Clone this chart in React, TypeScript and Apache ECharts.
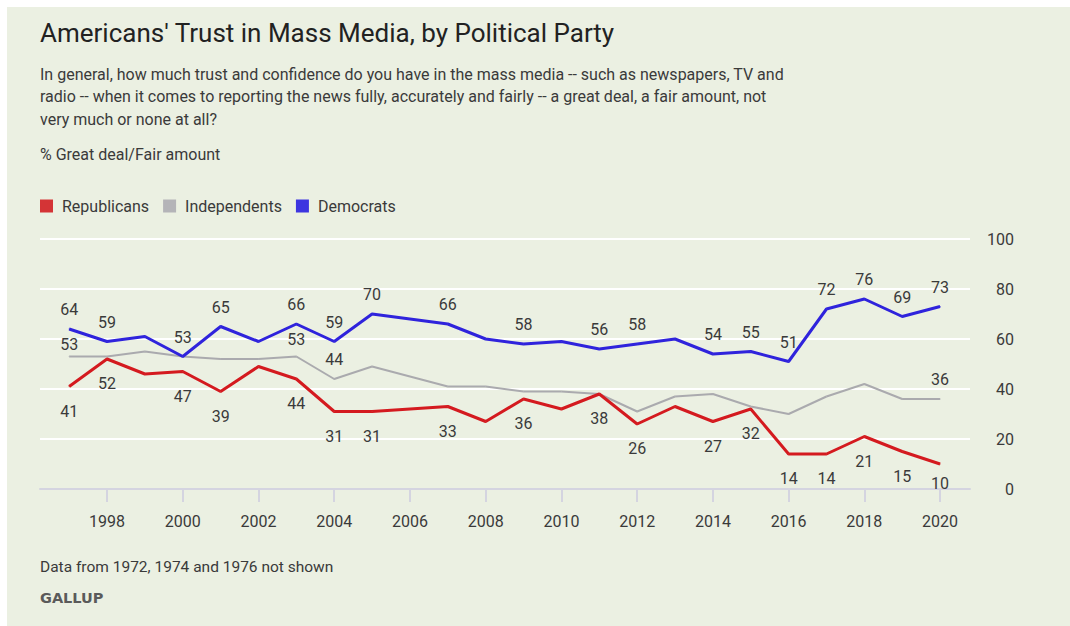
import React, { useEffect, useRef } from "react";
import * as echarts from "echarts";

const years = [1997, 1998, 1999, 2000, 2001, 2002, 2003, 2004, 2005, 2007, 2008, 2009, 2010, 2011, 2012, 2013, 2014, 2015, 2016, 2017, 2018, 2019, 2020];
const republicans = [41, 52, 46, 47, 39, 49, 44, 31, 31, 33, 27, 36, 32, 38, 26, 33, 27, 32, 14, 14, 21, 15, 10];
const independents = [53, 53, 55, 53, 52, 52, 53, 44, 49, 41, 41, 39, 39, 38, 31, 37, 38, 33, 30, 37, 42, 36, 36];
const democrats = [64, 59, 61, 53, 65, 59, 66, 59, 70, 66, 60, 58, 59, 56, 58, 60, 54, 55, 51, 72, 76, 69, 73];

const repLabelYears = [1997, 1998, 2000, 2001, 2003, 2004, 2005, 2007, 2009, 2011, 2012, 2014, 2015, 2016, 2017, 2018, 2019, 2020];
const indLabelYears = [1997, 2003, 2004, 2020];
const demLabelYears = [1997, 1998, 2000, 2001, 2003, 2004, 2005, 2007, 2009, 2011, 2012, 2014, 2015, 2016, 2017, 2018, 2019, 2020];

const xTickYears = [1998, 2000, 2002, 2004, 2006, 2008, 2010, 2012, 2014, 2016, 2018, 2020];

const titleText = "Americans' Trust in Mass Media, by Political Party";
const subtitleLines = [
  "In general, how much trust and confidence do you have in the mass media -- such as newspapers, TV and",
  "radio -- when it comes to reporting the news fully, accurately and fairly -- a great deal, a fair amount, not",
  "very much or none at all?",
];
const unitText = "% Great deal/Fair amount";
const noteText = "Data from 1972, 1974 and 1976 not shown";
const sourceText = "GALLUP";

const FONT = "Roboto, 'Liberation Sans', sans-serif";
const TEXT_COLOR = "#3a3a3a";

function buildData(values: number[], labelYears: number[], position: string, distance: number, overrides: Record<number, number> = {}) {
  return years.map((y, i) => {
    const show = labelYears.indexOf(y) >= 0;
    return {
      value: [y, values[i]],
      label: show
        ? { show: true, position, distance: overrides[y] !== undefined ? overrides[y] : distance }
        : { show: false },
    };
  });
}

export default function App() {
  const ref = useRef<HTMLDivElement>(null);
  useEffect(() => {
    if (!ref.current) return;
    const chart = echarts.init(ref.current, null, { renderer: "svg" });
    const labelStyle = { show: false, color: TEXT_COLOR, fontSize: 16, fontFamily: FONT };
    const mkSeries = (name: string, color: string, legendColor: string, width: number, z: number, data: any[]) => ({
      name,
      type: "line",
      symbol: "circle",
      symbolSize: 1,
      showSymbol: true,
      showAllSymbol: true,
      itemStyle: { color: legendColor },
      lineStyle: { width, color },
      label: labelStyle,
      labelLayout: { hideOverlap: false },
      emphasis: { disabled: true },
      z,
      data,
    });
    chart.setOption({
      animation: false,
      backgroundColor: "#ffffff",
      textStyle: { fontFamily: FONT },
      graphic: [
        { type: "rect", silent: true, z: -10, shape: { x: 7, y: 7, width: 1063, height: 619 }, style: { fill: "#ebf0e2" } },
        { type: "text", x: 40, y: 33, style: { text: titleText, font: `400 26px ${FONT}`, fill: "#222", textVerticalAlign: "middle", verticalAlign: "middle" } },
        ...subtitleLines.map((t, i) => ({
          type: "text", x: 40, y: 74 + i * 22.5,
          style: { text: t, font: `400 16px ${FONT}`, fill: TEXT_COLOR, textVerticalAlign: "middle", verticalAlign: "middle" },
        })),
        { type: "text", x: 40, y: 154, style: { text: unitText, font: `400 16px ${FONT}`, fill: TEXT_COLOR, textVerticalAlign: "middle", verticalAlign: "middle" } },
        { type: "text", x: 40, y: 567, style: { text: noteText, font: `400 15.5px ${FONT}`, fill: TEXT_COLOR, textVerticalAlign: "middle", verticalAlign: "middle" } },
        { type: "text", x: 40, y: 598, style: { text: sourceText, font: `700 14.5px 'DejaVu Sans', sans-serif`, fill: "#5a5a5a", textVerticalAlign: "middle", verticalAlign: "middle" } },
      ],
      legend: {
        left: 40,
        top: 198,
        padding: 0,
        icon: "rect",
        itemWidth: 13,
        itemHeight: 13,
        itemGap: 14,
        textStyle: { color: TEXT_COLOR, fontSize: 16, fontFamily: FONT, padding: [0, 0, 0, 4] },
        data: ["Republicans", "Independents", "Democrats"],
      },
      grid: { left: 40, right: 100, top: 239, bottom: 137 },
      xAxis: {
        type: "value",
        min: 1996.23,
        max: 2020.79,
        splitLine: { show: false },
        axisLine: { show: true, lineStyle: { color: "#d4d4e0", width: 2 } },
        axisTick: { show: true, length: 13, lineStyle: { color: "#d4d4e0", width: 2 }, customValues: xTickYears },
        axisLabel: { color: TEXT_COLOR, fontSize: 16, fontFamily: FONT, margin: 24, customValues: xTickYears, formatter: (v: number) => String(v) },
      },
      yAxis: {
        type: "value",
        position: "right",
        min: 0,
        max: 100,
        interval: 20,
        axisLine: { show: false },
        axisTick: { show: false },
        splitLine: { show: true, lineStyle: { color: "#ffffff", width: 2 } },
        axisLabel: { color: TEXT_COLOR, fontSize: 16, fontFamily: FONT, align: "right", margin: 44 },
      },
      series: [
        mkSeries("Republicans", "#d41a1f", "#d43436", 3, 3, buildData(republicans, repLabelYears, "bottom", 16, { 2020: 11 })),
        mkSeries("Independents", "#aaaaae", "#b4b4b8", 2, 2, buildData(independents, indLabelYears, "top", 11, { 1997: 4, 2003: 9 })),
        mkSeries("Democrats", "#2f23dc", "#3d35e0", 3, 4, buildData(democrats, demLabelYears, "top", 11)),
      ],
    });
    return () => chart.dispose();
  }, []);
  return <div ref={ref} style={{ position: "fixed", left: 0, top: 0, width: 1070, height: 626 }} />;
}
